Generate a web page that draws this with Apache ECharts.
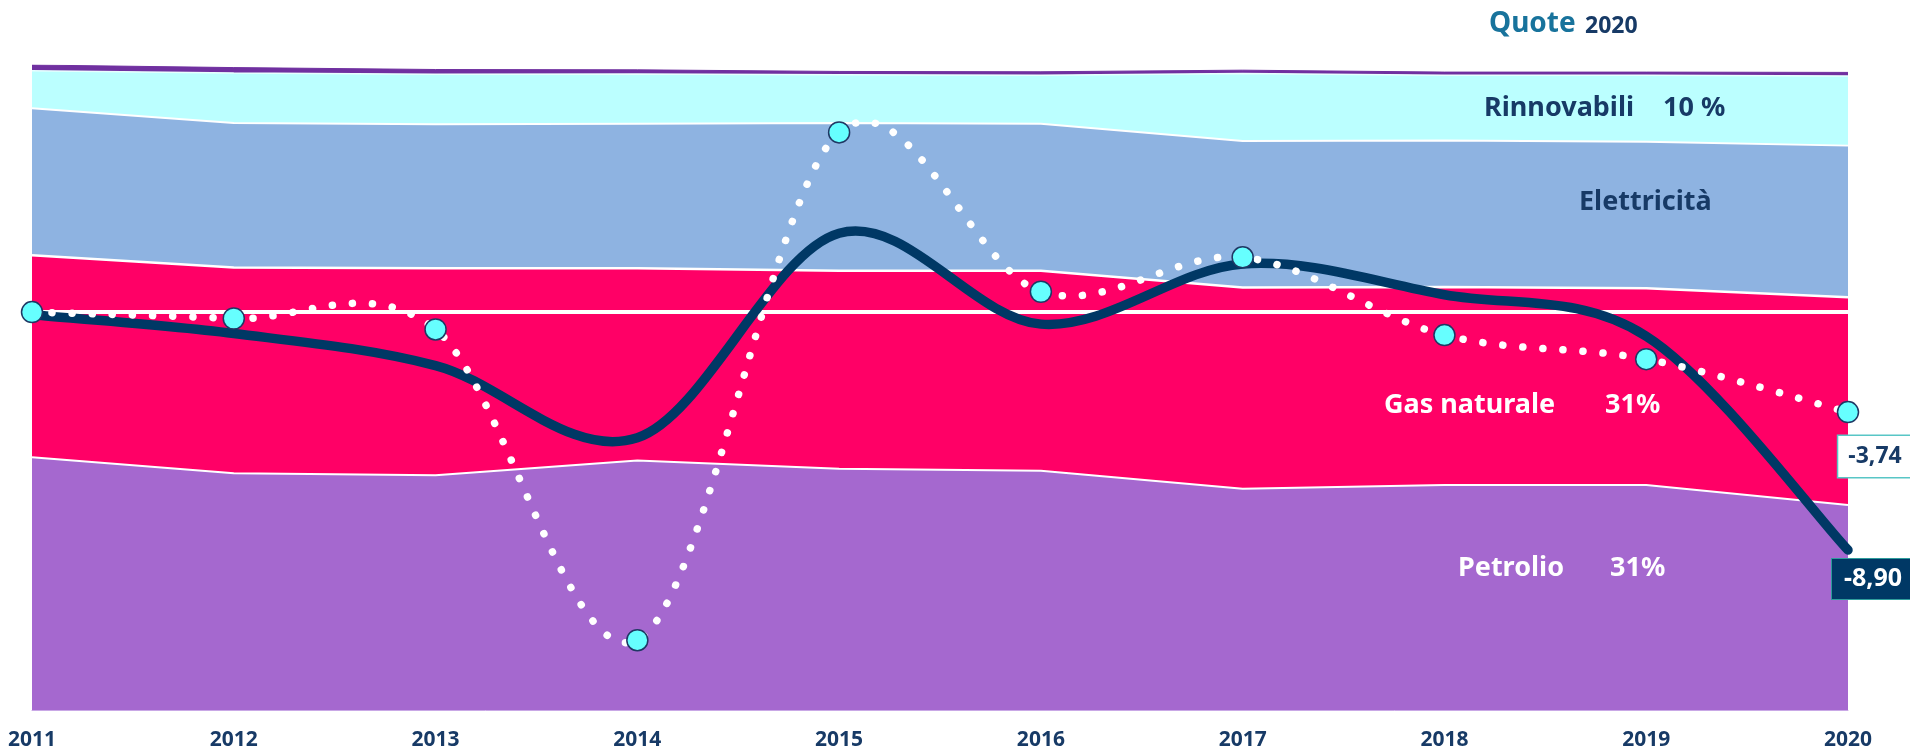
<!DOCTYPE html>
<html><head><meta charset="utf-8">
<script src="https://cdn.jsdelivr.net/npm/echarts@6/dist/echarts.min.js"></script>
<style>html,body{margin:0;padding:0;background:#fff}#c{width:1910px;height:752px}</style>
</head><body><div id="c"></div>
<script>
// ---- data ----
const years = ['2011','2012','2013','2014','2015','2016','2017','2018','2019','2020'];
const petrolio    = [39.2, 36.7, 36.4, 38.7, 37.4, 37.1, 34.3, 34.9, 34.9, 31.8];
const gasNaturale = [31.3, 31.9, 32.1, 29.8, 30.7, 31.0, 31.2, 30.7, 30.5, 32.2];
const elettricita = [22.8, 22.4, 22.3, 22.4, 22.9, 22.8, 22.7, 22.7, 22.7, 23.5];
const rinnovabili = [5.8, 7.75, 7.75, 7.7, 7.5, 7.5, 10.5, 10.1, 10.3, 10.8];
const solidi      = [0.9, 0.85, 0.75, 0.65, 0.5, 0.55, 0.5, 0.5, 0.5, 0.55];
const varSolida   = [-0.1, -0.8, -2.0, -4.7, 2.95, -0.45, 1.8, 0.65, -0.9, -8.90];
const varPunti    = [0.0, -0.24, -0.65, -12.27, 6.72, 0.76, 2.05, -0.86, -1.76, -3.74];

const FONT = '"Noto Sans", "DejaVu Sans", sans-serif';
const NAVY = '#173A66';
const fmt = v => v.toFixed(2).replace('.', ',');

function area(name, data, color, z, lineColor, lineWidth) {
  return {
    name, type: 'line', stack: 'quote', data, z,
    symbol: 'none', smooth: false,
    lineStyle: { color: lineColor, width: lineWidth },
    areaStyle: { color, opacity: 1 },
    itemStyle: { color }
  };
}

// smooth curve (Catmull-Rom style) through the data points, using the axis scales
function smoothPath(api, values) {
  const pts = values.map((v, i) => api.coord([i, v]));
  const n = pts.length;
  let d = 'M' + pts[0][0] + ' ' + pts[0][1];
  for (let i = 0; i < n - 1; i++) {
    const p0 = pts[Math.max(i - 1, 0)], p1 = pts[i], p2 = pts[i + 1], p3 = pts[Math.min(i + 2, n - 1)];
    const c1x = p1[0] + (p2[0] - p0[0]) / 6, c1y = p1[1] + (p2[1] - p0[1]) / 6;
    const c2x = p2[0] - (p3[0] - p1[0]) / 6, c2y = p2[1] - (p3[1] - p1[1]) / 6;
    d += ' C' + c1x + ' ' + c1y + ' ' + c2x + ' ' + c2y + ' ' + p2[0] + ' ' + p2[1];
  }
  return d;
}
function curveSeries(values, z, style) {
  return {
    type: 'custom', xAxisIndex: 0, yAxisIndex: 1, z, clip: false, silent: true,
    data: values.map((v, i) => [i, v]),
    encode: { x: 0, y: 1 },
    renderItem: (params, api) => params.dataIndex === 0 ? {
      type: 'path', shape: { pathData: smoothPath(api, values) },
      style: Object.assign({ fill: null }, style)
    } : null
  };
}

const lastIdx = years.length - 1;
const solidData = varSolida.map((v, i) => i === lastIdx ? {
  value: v,
  label: {
    show: true, position: 'inside', offset: [25, 29],
    formatter: () => fmt(v),
    color: '#ffffff', fontFamily: FONT, fontWeight: 'bold', fontSize: 25, lineHeight: 26,
    backgroundColor: '#003865', borderColor: '#2E9C9C', borderWidth: 1,
    padding: [7, 12, 7, 12]
  }
} : v);
const dotData = varPunti.map((v, i) => i === lastIdx ? {
  value: v,
  label: {
    show: true, position: 'inside', offset: [27, 44.5],
    formatter: () => fmt(v),
    color: NAVY, fontFamily: FONT, fontWeight: 'bold', fontSize: 23, lineHeight: 25,
    backgroundColor: '#ffffff', borderColor: '#58C6C6', borderWidth: 1.5,
    padding: [8, 10, 8, 10]
  }
} : v);

const chart = echarts.init(document.getElementById('c'), null, { renderer: 'canvas' });
chart.setOption({
  animation: false,
  backgroundColor: '#ffffff',
  grid: { left: 32, right: 62, top: 65, bottom: 42, containLabel: false },
  xAxis: [{
    type: 'category', data: years, boundaryGap: false,
    axisLine: { show: true, lineStyle: { color: '#C9A8E6', width: 1 } },
    axisTick: { show: false },
    axisLabel: { color: NAVY, fontFamily: FONT, fontWeight: 'bold', fontSize: 21, margin: 20 },
    splitLine: { show: false }
  }, {
    type: 'category', data: years, boundaryGap: false, z: 6,
    axisLine: { show: true, onZero: true, onZeroAxisIndex: 1, lineStyle: { color: '#ffffff', width: 4 } },
    axisTick: { show: false }, axisLabel: { show: false }, splitLine: { show: false }
  }],
  yAxis: [{
    type: 'value', min: 0, max: 100, show: false, splitLine: { show: false }
  }, {
    type: 'value', min: -14.88, max: 9.24, show: false, splitLine: { show: false }
  }],
  series: [
    area('Petrolio', petrolio, '#A568CF', 5, '#ffffff', 2),
    area('Gas naturale', gasNaturale, '#FF0066', 4, '#ffffff', 2.5),
    area('Elettricità', elettricita, '#8EB3E1', 3, '#ffffff', 2),
    area('Rinnovabili', rinnovabili, '#BBFFFF', 2, '#E8FFFF', 1.5),
    area('Solidi', solidi, '#7030A0', 1, '#7030A0', 1),
    curveSeries(varSolida, 7, { stroke: '#003865', lineWidth: 9.5, lineCap: 'round', lineJoin: 'round' }),
    curveSeries(varPunti, 8, { stroke: '#ffffff', lineWidth: 7.5, lineCap: 'round', lineDash: [0.1, 20] }),
    {
      name: 'Variazione consumi', type: 'line', yAxisIndex: 1, xAxisIndex: 0,
      data: solidData, z: 9, clip: false,
      symbol: 'circle', symbolSize: 2, showSymbol: true,
      itemStyle: { color: 'rgba(0,0,0,0)', borderWidth: 0 },
      lineStyle: { width: 0, opacity: 0 }
    },
    {
      name: 'Variazione PIL', type: 'line', yAxisIndex: 1, xAxisIndex: 0,
      data: dotData, z: 9, clip: false,
      symbol: 'circle', symbolSize: 21, showSymbol: true,
      itemStyle: { color: '#66FFFF', borderColor: '#1F3864', borderWidth: 1.5 },
      lineStyle: { width: 0, opacity: 0 }
    }
  ],
  graphic: [
    { type: 'text', x: 1489, y: 24, z: 20, style: { text: 'Quote', font: 'bold 28px ' + FONT, fill: '#18739C', align: 'left', verticalAlign: 'middle', textAlign: 'left', textVerticalAlign: 'middle' } },
    { type: 'text', x: 1585, y: 26, z: 20, style: { text: '2020', font: 'bold 23px ' + FONT, fill: NAVY, align: 'left', verticalAlign: 'middle', textAlign: 'left', textVerticalAlign: 'middle' } },
    { type: 'text', x: 1484, y: 108, z: 20, style: { text: 'Rinnovabili', font: 'bold 27px ' + FONT, fill: NAVY, align: 'left', verticalAlign: 'middle', textAlign: 'left', textVerticalAlign: 'middle' } },
    { type: 'text', x: 1663, y: 108, z: 20, style: { text: '10 %', font: 'bold 27px ' + FONT, fill: NAVY, align: 'left', verticalAlign: 'middle', textAlign: 'left', textVerticalAlign: 'middle' } },
    { type: 'text', x: 1579, y: 202, z: 20, style: { text: 'Elettricità', font: 'bold 27px ' + FONT, fill: NAVY, align: 'left', verticalAlign: 'middle', textAlign: 'left', textVerticalAlign: 'middle' } },
    { type: 'text', x: 1384, y: 405, z: 20, style: { text: 'Gas naturale', font: 'bold 27px ' + FONT, fill: '#ffffff', align: 'left', verticalAlign: 'middle', textAlign: 'left', textVerticalAlign: 'middle' } },
    { type: 'text', x: 1605, y: 405, z: 20, style: { text: '31%', font: 'bold 27px ' + FONT, fill: '#ffffff', align: 'left', verticalAlign: 'middle', textAlign: 'left', textVerticalAlign: 'middle' } },
    { type: 'text', x: 1458, y: 568, z: 20, style: { text: 'Petrolio', font: 'bold 27px ' + FONT, fill: '#ffffff', align: 'left', verticalAlign: 'middle', textAlign: 'left', textVerticalAlign: 'middle' } },
    { type: 'text', x: 1610, y: 568, z: 20, style: { text: '31%', font: 'bold 27px ' + FONT, fill: '#ffffff', align: 'left', verticalAlign: 'middle', textAlign: 'left', textVerticalAlign: 'middle' } }
  ]
});
</script>
</body></html>
